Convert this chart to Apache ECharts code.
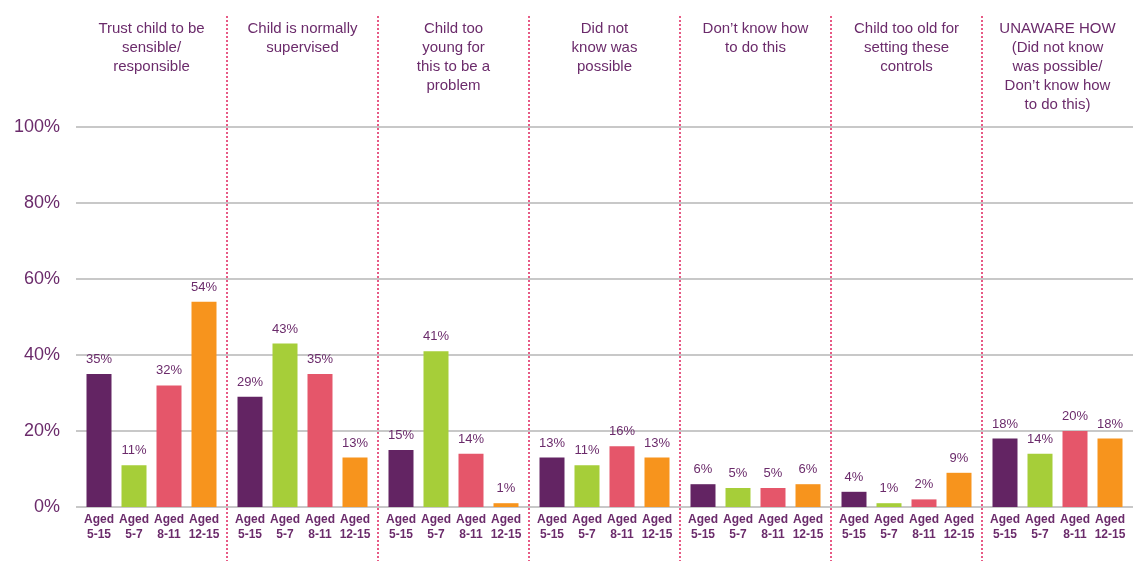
<!DOCTYPE html>
<html><head><meta charset="utf-8">
<script src="https://cdn.jsdelivr.net/npm/echarts@6/dist/echarts.min.js"></script>
<style>html,body{margin:0;padding:0;background:#fff}#c{width:1137px;height:561px}</style>
</head><body><div id="c"></div>
<script>
const groups = ['Trust child to be\nsensible/\nresponsible', 'Child is normally\nsupervised', 'Child too\nyoung for\nthis to be a\nproblem', 'Did not\nknow was\npossible', 'Don\u2019t know how\nto do this', 'Child too old for\nsetting these\ncontrols', 'UNAWARE HOW\n(Did not know\nwas possible/\nDon\u2019t know how\nto do this)'];
const ageLabels = ['Aged\n5-15', 'Aged\n5-7', 'Aged\n8-11', 'Aged\n12-15'];
const aged5to15 = [35, 29, 15, 13, 6, 4, 18];
const aged5to7 = [11, 43, 41, 11, 5, 1, 14];
const aged8to11 = [32, 35, 14, 16, 5, 2, 20];
const aged12to15 = [54, 13, 1, 13, 6, 9, 18];
const yTicks = [0, 20, 40, 60, 80, 100];

const ageSeries = [aged5to15, aged5to7, aged8to11, aged12to15];
const colors = ['#632463', '#a6ce39', '#e5566a', '#f7941d'];
const txt = '#6b2b6b';
const FONT = 'Liberation Sans, Arial, sans-serif';

const series = [];
ageSeries.forEach((vals, i) => {
  // base placeholder carrying the age label below the axis
  series.push({
    type: 'bar', stack: 's' + i, xAxisIndex: 0, yAxisIndex: 0,
    barWidth: 25, barGap: '40%',
    data: groups.map(() => 0),
    itemStyle: { color: colors[i] },
    label: {
      show: true, position: 'bottom', distance: 5,
      formatter: ageLabels[i], color: txt, fontWeight: 'bold',
      fontSize: 12, lineHeight: 15, fontFamily: FONT
    },
    silent: true
  });
  series.push({
    type: 'bar', stack: 's' + i, xAxisIndex: 0, yAxisIndex: 0,
    barWidth: 25, barGap: '40%',
    data: vals,
    itemStyle: { color: colors[i] },
    label: {
      show: true, position: 'top', distance: 8,
      formatter: p => p.value + '%', color: txt,
      fontSize: 13, fontFamily: FONT
    }
  });
});

const chart = echarts.init(document.getElementById('c'), null, { renderer: 'canvas' });
chart.setOption({
  animation: false,
  textStyle: { fontFamily: FONT },
  grid: [
    { left: 76, right: 4, top: 127, bottom: 54 },
    { left: 76, right: 4, top: 16, bottom: 0 }
  ],
  xAxis: [
    { type: 'category', gridIndex: 0, data: groups,
      axisLine: { show: false }, axisTick: { show: false }, axisLabel: { show: false } },
    { type: 'category', gridIndex: 0, data: groups, position: 'top',
      axisLine: { show: false }, axisTick: { show: false },
      axisLabel: { show: true, interval: 0, margin: 108, verticalAlign: 'top',
        color: txt, fontSize: 15, lineHeight: 19, fontFamily: FONT, align: 'center' } },
    { type: 'category', gridIndex: 1, data: groups,
      axisLine: { show: false }, axisTick: { show: false }, axisLabel: { show: false },
      splitLine: { show: true, interval: 0, showMinLine: false, showMaxLine: false,
        lineStyle: { color: '#e0245e', width: 1.5, type: [2, 2] } } }
  ],
  yAxis: [
    { type: 'value', gridIndex: 0, min: yTicks[0], max: yTicks[yTicks.length - 1], interval: 20,
      axisLine: { show: false }, axisTick: { show: false },
      axisLabel: { formatter: '{value}%', color: txt, fontSize: 18, margin: 16, fontFamily: FONT },
      splitLine: { lineStyle: { color: '#c8c8c8', width: 2 } } },
    { type: 'value', gridIndex: 1, show: false, min: 0, max: 1, splitLine: { show: false } }
  ],
  series: series
});
</script></body></html>
